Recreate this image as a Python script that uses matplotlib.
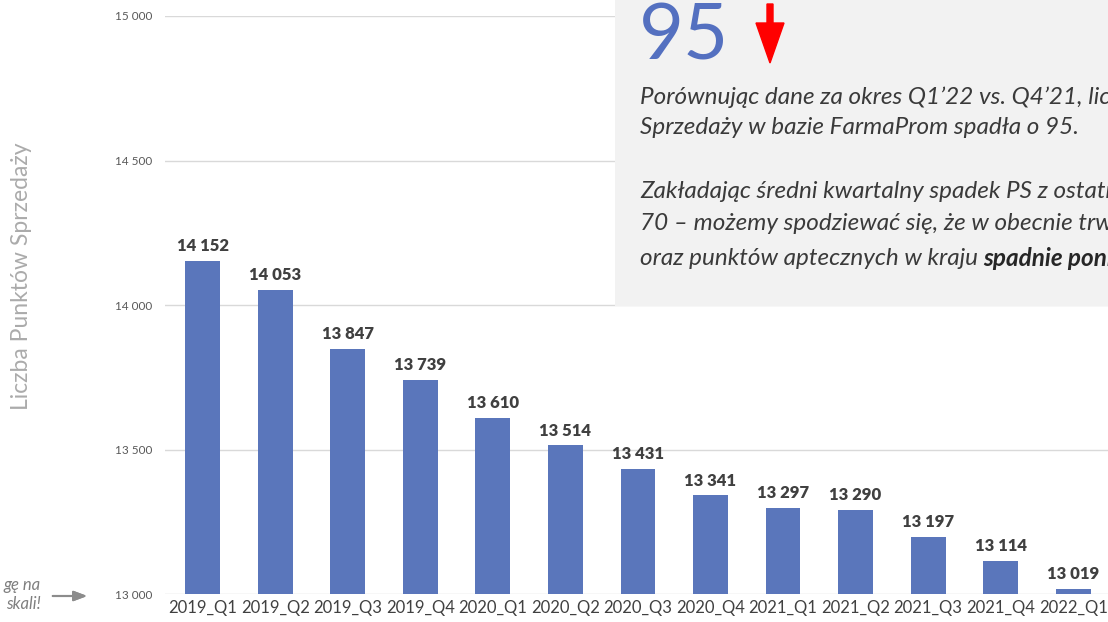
import matplotlib.pyplot as plt
from matplotlib.patches import Rectangle, FancyArrow
from matplotlib.transforms import IdentityTransform
from matplotlib.ticker import FuncFormatter

plt.rcParams['font.family'] = ['Lato', 'DejaVu Sans']

# Data.
quarters = ['2019_Q1', '2019_Q2', '2019_Q3', '2019_Q4',
            '2020_Q1', '2020_Q2', '2020_Q3', '2020_Q4',
            '2021_Q1', '2021_Q2', '2021_Q3', '2021_Q4', '2022_Q1']
points_of_sale = [14152, 14053, 13847, 13739, 13610, 13514, 13431,
                  13341, 13297, 13290, 13197, 13114, 13019]
y_ticks = [13000, 13500, 14000, 14500, 15000]

bar_color = '#5a76bb'
W, H = 1108, 622


def fmt(v, pos=None):
    return '{:,}'.format(int(v)).replace(',', ' ')


fig = plt.figure(figsize=(W / 100, H / 100), dpi=100)
ax = fig.add_axes([165 / W, 28 / H, 1 - 165 / W, 578 / H])

x = list(range(len(quarters)))
ax.bar(x, [v - 13000 for v in points_of_sale], bottom=13000, width=0.48,
       color=bar_color, zorder=2)
for xi, v in zip(x, points_of_sale):
    ax.annotate(fmt(v), (xi, v), xytext=(0, 5), textcoords='offset points',
                ha='center', va='bottom', fontsize=12, fontweight='heavy',
                color='#404040')

ax.set_xlim(-0.52, 12.48)
ax.set_ylim(13000, 15000)
ax.set_yticks(y_ticks)
ax.yaxis.set_major_formatter(FuncFormatter(fmt))
ax.set_xticks(x)
ax.set_xticklabels(quarters)
ax.tick_params(axis='both', length=0)
ax.tick_params(axis='y', labelsize=8.5, labelcolor='#595959', pad=9)
ax.tick_params(axis='x', labelsize=12, labelcolor='#404040', pad=4)
ax.grid(axis='y', color='#d9d9d9', linewidth=1, zorder=0)
for s in ax.spines.values():
    s.set_visible(False)

# y-axis title
fig.text(22 / W, 1 - 276 / H, 'Liczba Punktów Sprzedaży', rotation=90,
         ha='center', va='center', fontsize=16.5, color='#ababab')

# note on the left
fig.text(41 / W, 1 - 585 / H, 'gę na', ha='right', va='center',
         fontsize=12, style='italic', color='#7f7f7f')
fig.text(41 / W, 1 - 604 / H, 'skali!', ha='right', va='center',
         fontsize=12, style='italic', color='#7f7f7f')
fig.add_artist(plt.annotate('', xy=(90, H - 596), xytext=(50, H - 596),
                            xycoords='figure pixels', textcoords='figure pixels',
                            arrowprops=dict(arrowstyle='-|>,head_width=0.3,head_length=0.8',
                                            color='#8c8c8c', lw=1.5)))

# grey comment box
fig.patches.append(Rectangle((615 / W, 1 - 306 / H), 1 - 615 / W, 306 / H,
                             transform=fig.transFigure, facecolor='#f2f2f2',
                             edgecolor='none', zorder=5))

fig.text(639 / W, 1 - 60 / H, '95', ha='left', va='baseline', fontsize=56,
         color='#5470c0', zorder=6)
fig.patches.append(FancyArrow(770, H - 4, 0, -59, width=6, head_width=28,
                              head_length=40, length_includes_head=True,
                              color='red', transform=IdentityTransform(),
                              zorder=6))

fs = 17.5
lines = [
    (97, 'Porównując dane za okres Q1\u201922 vs. Q4\u201921, liczba Punktów'),
    (128, 'Sprzedaży w bazie FarmaProm spadła o 95.'),
    (192, 'Zakładając średni kwartalny spadek PS z ostatnich kwartałów na poziomie'),
    (224, '70 \u2013 możemy spodziewać się, że w obecnie trwającym roku liczba aptek'),
]
for yy, t in lines:
    fig.text(640 / W, 1 - yy / H, t, ha='left', va='center', fontsize=fs,
             style='italic', color='#3a3a3a', zorder=6)

t = fig.text(640 / W, 1 - 258 / H, 'oraz punktów aptecznych w kraju ',
             ha='left', va='center', fontsize=fs, style='italic',
             color='#3a3a3a', zorder=6)
fig.canvas.draw()
bb = t.get_window_extent()
fig.text(bb.x1 / W, 1 - 258 / H, 'spadnie poniżej 13 000.', ha='left',
         va='center', fontsize=fs, style='italic', fontweight='bold',
         color='#262626', zorder=6)

fig.savefig('out.png', dpi=100)
